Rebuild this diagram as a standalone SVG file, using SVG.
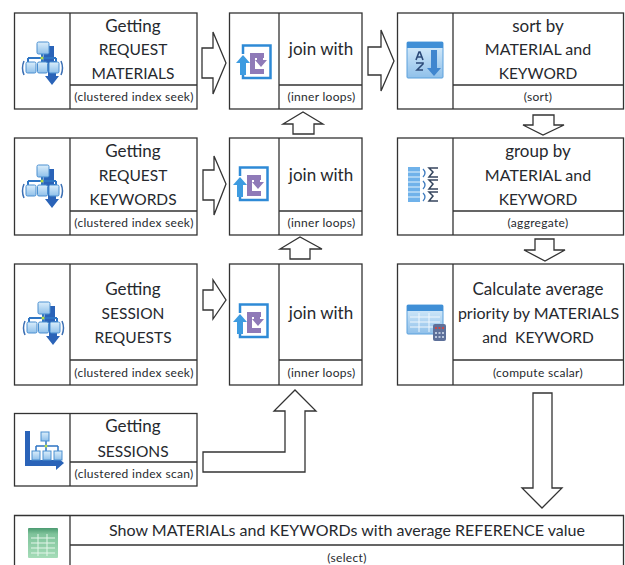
<svg xmlns="http://www.w3.org/2000/svg" width="625" height="565" viewBox="0 0 625 565">
<style>
.b{fill:none;stroke:#333;stroke-width:1.3}
.a{fill:#fff;stroke:#333;stroke-width:1.3;stroke-linejoin:miter}
text{font-family:Lato,"Liberation Sans",sans-serif;fill:#26292e;text-anchor:middle;white-space:pre}
.t{font-size:15.5px}
.l{font-size:17px}
.m{font-size:16px}
.s{font-size:12px;letter-spacing:.3px}
</style>
<defs>
<linearGradient id="lb" x1="0" y1="0" x2="0" y2="1"><stop offset="0" stop-color="#dbeefb"/><stop offset="1" stop-color="#8fc0ea"/></linearGradient>
<linearGradient id="gr" x1="0" y1="0" x2="0" y2="1"><stop offset="0" stop-color="#4c9a70"/><stop offset=".2" stop-color="#7fc39b"/><stop offset="1" stop-color="#a5dcb8"/></linearGradient>
<filter id="soft" x="-10%" y="-10%" width="120%" height="120%"><feGaussianBlur stdDeviation=".45"/></filter>
<g id="seek" filter="url(#soft)">
<path d="M22 4h10v15h2v15h3l-7 9-7-9h3V21h-5z" fill="#2b64b8"/>
<path d="M6 16H34M20 10V22M6 16v6M34 16v6" stroke="#2f74c4" stroke-width="2" fill="none"/>
<rect x="15" y="0" width="12" height="12" rx="1.5" fill="url(#lb)" stroke="#4a8fd0"/>
<rect x="4" y="20" width="10" height="11" rx="1.5" fill="url(#lb)" stroke="#4a8fd0"/>
<rect x="15.500" y="20" width="10" height="11" rx="1.5" fill="url(#lb)" stroke="#4a8fd0"/>
<rect x="27" y="20" width="10" height="11" rx="1.5" fill="url(#lb)" stroke="#4a8fd0"/>
<path d="M2 19Q-1 26 2 33M39 19Q42 26 39 33" fill="none" stroke="#3b6fb4" stroke-width="1.5"/>
<circle cx="20" cy="16" r="1.6" fill="#b8e04a"/>
</g>
<g id="join" filter="url(#soft)">
<path d="M7 10V1.500H34.500V34H7V17" fill="#fff" stroke="#2f8ad6" stroke-width="2.500"/>
<path d="M7 11l7 8h-4v12H4V19H0z" fill="#3d9be0"/>
<path d="M14 9h14v5h-9v11h9v5H14z" fill="#8f7ab8"/>
<path d="M21 12h6v4h4l-6 7-6-7h2z" fill="#8f7ab8"/>
</g>
</defs>
<rect width="625" height="565" fill="#fff"/>
<g id="connectors">
<path class="a" d="M202 48H213V32L226 63L213 94V78H202Z"/>
<path class="a" d="M203 170H214V156L226 184L214 215V200H203Z"/>
<path class="a" d="M203 290H213V280L226 300L213 319V310H203Z"/>
<path class="a" d="M368 47H381V30L394 61L381 91V75H368Z"/>
<path class="a" d="M293 134V124H283L303 112L323 124H314V134Z"/>
<path class="a" d="M290 259V249H280L300 237L322 249H310V259Z"/>
<path class="a" d="M533 115H554V125H564L543 135L523 125H533Z"/>
<path class="a" d="M535 239H554V250H565L545 261L524 250H535Z"/>
<path class="a" d="M533 393H552V488H562L542 508L522 488H533Z"/>
<path class="a" d="M203 452H285V411H274L295 390L316 411H305V472H203Z"/>
</g>
<g id="n1"><rect class="b" x="14.500" y="13" width="182.500" height="96"/><path class="b" d="M70 13V109M70 85H197"/><use href="#seek" x="22" y="42"/><text class="l" x="133" y="32">Getting</text><text class="t" x="133" y="55">REQUEST</text><text class="t" x="133" y="79">MATERIALS</text><text class="s" x="134" y="101">(clustered index seek)</text></g>
<g id="n2"><rect class="b" x="14.500" y="138" width="182.500" height="97"/><path class="b" d="M70 138V235M70 211H197"/><use href="#seek" x="22" y="165"/><text class="l" x="133" y="157">Getting</text><text class="t" x="133" y="181">REQUEST</text><text class="t" x="133" y="205">KEYWORDS</text><text class="s" x="134" y="227">(clustered index seek)</text></g>
<g id="n3"><rect class="b" x="14.500" y="264" width="182.500" height="121"/><path class="b" d="M70 264V385M70 360H197"/><use href="#seek" x="23" y="302"/><text class="l" x="133" y="295">Getting</text><text class="t" x="133" y="319">SESSION</text><text class="t" x="133" y="343">REQUESTS</text><text class="s" x="134" y="377">(clustered index seek)</text></g>
<g id="n4"><rect class="b" x="14.500" y="413.500" width="182.500" height="72.500"/><path class="b" d="M70 413.500V486M70 462H197"/>
<g filter="url(#soft)" transform="translate(24 431)"><path d="M1 0H6V29H32V25L40 32L32 39V35H1Z" fill="#2b64b8"/><path d="M12 15H34M22 9V21M12 15v5M34 15v5" stroke="#2f74c4" stroke-width="1.500" fill="none"/><rect x="17" y="1" width="8" height="9" fill="url(#lb)" stroke="#4a8fd0"/><rect x="8" y="20" width="8" height="9" fill="url(#lb)" stroke="#4a8fd0"/><rect x="19" y="20" width="8" height="9" fill="url(#lb)" stroke="#4a8fd0"/><rect x="30" y="20" width="8" height="9" fill="url(#lb)" stroke="#4a8fd0"/><circle cx="22" cy="15" r="1.500" fill="#b8e04a"/></g>
<text class="l" x="133" y="432">Getting</text><text class="t" x="133" y="457">SESSIONS</text><text class="s" x="134" y="478">(clustered index scan)</text></g>
<g id="n5"><rect class="b" x="229.500" y="13" width="132.500" height="96"/><path class="b" d="M279 13V109M279 85H362"/><use href="#join" x="236" y="44"/><text class="l" x="321" y="55">join with</text><text class="s" x="321.500" y="101">(inner loops)</text></g>
<g id="n6"><rect class="b" x="229.500" y="138" width="132.500" height="97"/><path class="b" d="M279 138V235M279 211H362"/><use href="#join" x="233" y="166"/><text class="l" x="321" y="181">join with</text><text class="s" x="321.500" y="227">(inner loops)</text></g>
<g id="n7"><rect class="b" x="229.500" y="264" width="132.500" height="121"/><path class="b" d="M279 264V385M279 360H362"/><use href="#join" x="233" y="303"/><text class="l" x="321" y="319">join with</text><text class="s" x="321.500" y="377">(inner loops)</text></g>
<g id="n8"><rect class="b" x="397.500" y="13" width="226" height="96"/><path class="b" d="M453 13V109M453 85H623"/>
<g filter="url(#soft)" transform="translate(407 42)"><rect width="36" height="36" rx="1" fill="url(#lb)" stroke="#5aa0dc"/><rect width="36" height="6" fill="#3f8fd6"/><path d="M24 8h6v18h4l-7 8-7-8h4z" fill="#3f86cf"/><path d="M9 18l3-8h1l3 8M10 15h5M9 21h7v1l-6 6h6" fill="none" stroke="#2c4a78" stroke-width="1.600"/></g>
<text class="l" x="538" y="32">sort by</text><text class="m" x="538" y="55">MATERIAL and</text><text class="t" x="538" y="79">KEYWORD</text><text class="s" x="538" y="101">(sort)</text></g>
<g id="n9"><rect class="b" x="397.500" y="138" width="226" height="97"/><path class="b" d="M453 138V235M453 211H623"/>
<g filter="url(#soft)" transform="translate(408 167)"><rect width="12" height="35" fill="#6fb2ea"/><path d="M0 5h12M0 10h12M0 15h12M0 20h12M0 25h12M0 30h12" stroke="#e6f3fd"/><path d="M15 2q4 4 0 8M15 14q4 4 0 8M15 26q4 4 0 8" fill="none" stroke="#3f7cc0" stroke-width="1.300"/><path d="M30 1h-9l4 4-4 5h9M30 13h-9l4 4-4 5h9M30 25h-9l4 4-4 5h9" fill="none" stroke="#35465e" stroke-width="1.500"/></g>
<text class="l" x="538" y="157">group by</text><text class="m" x="538" y="181">MATERIAL and</text><text class="t" x="538" y="205">KEYWORD</text><text class="s" x="538" y="227">(aggregate)</text></g>
<g id="n10"><rect class="b" x="397.500" y="264" width="226" height="121"/><path class="b" d="M453 264V385M453 360H623"/>
<g filter="url(#soft)" transform="translate(407 305)"><rect width="36" height="29" rx="1" fill="url(#lb)" stroke="#5aa0dc"/><rect width="36" height="6" fill="#3f8fd6"/><path d="M3 12H33M3 17H33M3 22H33M12 8V27M22 8V27" stroke="#f0f7fd"/><rect x="26" y="19" width="13" height="17" rx="2" fill="#5d6f9a"/><path d="M28 23h9" stroke="#c44a4a" stroke-width="2" stroke-dasharray="2 1.500"/><path d="M28 28h9M28 32h9" stroke="#b9c6dc" stroke-width="2" stroke-dasharray="2 1.500"/></g>
<text class="l" x="538" y="295">Calculate average</text><text class="m" x="538.500" y="319">priority by MATERIALS</text><text class="t" x="538" y="343">and  KEYWORD</text><text class="s" x="538" y="377">(compute scalar)</text></g>
<g id="n11"><path class="b" d="M14.500 570V515.500H623.500V570M70 515.500V570M70 545H623.500"/>
<g filter="url(#soft)" transform="translate(28 528)"><rect width="30" height="30" rx="1" fill="url(#gr)"/><path d="M3 10H27M3 15H27M3 20H27M3 25H27M10 6V28M19 6V28" stroke="#e4f6ea"/></g>
<text class="m" x="347" y="536">Show MATERIALs and KEYWORDs with average REFERENCE value</text><text class="s" x="347" y="562">(select)</text></g>
</svg>
